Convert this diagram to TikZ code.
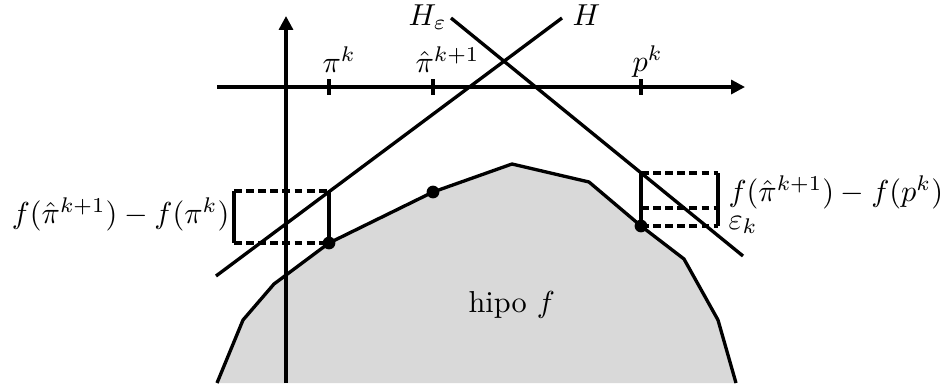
\documentclass[tikz,border=0pt]{standalone}
\usetikzlibrary{arrows.meta}
\definecolor{hypofill}{gray}{0.85}
\begin{document}
\begin{tikzpicture}[x=0.33pt,y=-0.33pt,
  axis/.style={line width=1.1pt,-{Triangle[length=4.6pt,width=4.6pt]}},
  ln/.style={line width=1.1pt},
  dsh/.style={line width=1pt,dash pattern=on 2.6pt off 1.4pt},
  lblw/.style={inner sep=0pt,anchor=base west},
  lble/.style={inner sep=0pt,anchor=base east}]
\useasboundingbox (0,0) rectangle (943,383);
% hypograph vertices
\coordinate (V1) at (217,383);
\coordinate (V2) at (243,320);
\coordinate (V3) at (274,284);
\coordinate (A)  at (329,243);
\coordinate (B)  at (433,192);
\coordinate (V6) at (512,164);
\coordinate (V7) at (589,182);
\coordinate (C)  at (641,226);
\coordinate (V9) at (684,259);
\coordinate (V10) at (718,320);
\coordinate (V11) at (736,383);
\fill[hypofill] (V1) -- (V2) -- (V3) -- (A) -- (B) -- (V6) -- (V7) -- (C) -- (V9) -- (V10) -- (V11) -- cycle;
\draw[ln,line join=round] (V1) -- (V2) -- (V3) -- (A) -- (B) -- (V6) -- (V7) -- (C) -- (V9) -- (V10) -- (V11);
% axes
\coordinate (xs) at (217,87);
\coordinate (xe) at (745,87);
\coordinate (ys) at (286,383);
\coordinate (ye) at (286,16);
\draw[axis] (xs) -- (xe);
\draw[axis] (ys) -- (ye);
% ticks
\foreach \n/\x in {t1/329,t2/433,t3/641}{
  \coordinate (\n a) at (\x,79);
  \coordinate (\n b) at (\x,95);
  \draw[ln] (\n a) -- (\n b);
}
% supporting lines
\coordinate (Hs) at (216,276);
\coordinate (He) at (562,18);
\draw[ln] (Hs) -- (He);
\coordinate (Es) at (451,18);
\coordinate (Ee) at (743,256);
\draw[ln] (Es) -- (Ee);
% left brackets
\coordinate (Lt) at (329,191);
\coordinate (Lbt) at (234,191);
\coordinate (Lbb) at (234,243);
\draw[dsh] (Lbt) -- (Lt);
\draw[dsh] (Lbb) -- (A);
\draw[ln] (Lbt) -- (Lbb);
\draw[ln] (Lt) -- (A);
% right brackets
\coordinate (Rt) at (641,173);
\coordinate (Rm) at (641,208);
\coordinate (Rbt) at (718,173);
\coordinate (Rbm) at (718,208);
\coordinate (Rbb) at (718,226);
\draw[dsh] (Rt) -- (Rbt);
\draw[dsh] (Rm) -- (Rbm);
\draw[dsh] (C) -- (Rbb);
\draw[ln] (Rbt) -- (Rbb);
\draw[ln] (Rt) -- (C);
% dots
\fill (A) circle[radius=2.1pt];
\fill (B) circle[radius=2.1pt];
\fill (C) circle[radius=2.1pt];
% labels
\node[lblw] (lpik) at (322,72) {$\pi^k$};
\node[lblw] (lpih) at (415,72) {$\hat\pi^{k+1}$};
\node[lblw] (lpk) at (632,71) {$p^k$};
\node[lblw] (lHe) at (408,25) {$H_\varepsilon$};
\node[lblw] (lH) at (572,25) {$H$};
\node[lble] (lleft) at (230,223) {$f(\hat\pi^{k+1})-f(\pi^k)$};
\node[lblw] (lright) at (728,201) {$f(\hat\pi^{k+1})-f(p^k)$};
\node[lblw] (leps) at (728,229) {$\varepsilon_k$};
\node[lblw] (lhypo) at (468,312) {hipo $f$};
\end{tikzpicture}
\end{document}
